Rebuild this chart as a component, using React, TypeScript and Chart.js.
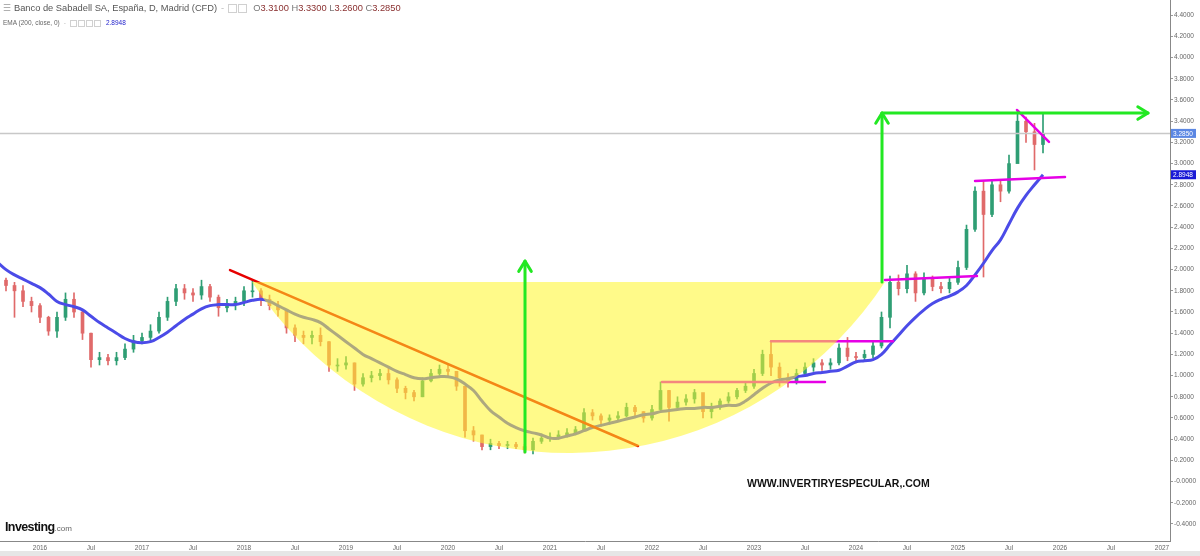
import React, { useEffect, useRef } from "react";
import { Chart, registerables } from "chart.js";

Chart.register(...registerables);

// ---- Data (monthly candles, Aug 2015 .. Nov 2025) ----
const START_YEAR = 2015;
const START_MONTH = 8; // August
const firstOpen = 1.95;
const closes = [
  1.9, 1.85, 1.8, 1.7, 1.66,
  1.55, 1.42, 1.55, 1.72, 1.6, 1.4, 1.15, 1.17, 1.14, 1.17, 1.25, 1.33,
  1.36, 1.42, 1.55, 1.7, 1.82, 1.78, 1.76, 1.84, 1.74, 1.64, 1.68, 1.7,
  1.8, 1.8, 1.72, 1.66, 1.62, 1.45, 1.38, 1.36, 1.38, 1.32, 1.1, 1.1,
  1.12, 0.92, 0.98, 1.0, 1.02, 0.96, 0.88, 0.84, 0.8, 0.95, 1.02, 1.06,
  1.04, 0.9, 0.48, 0.44, 0.33, 0.36, 0.34, 0.35, 0.33, 0.3, 0.38, 0.41,
  0.42, 0.44, 0.46, 0.49, 0.65, 0.62, 0.58, 0.6, 0.62, 0.7, 0.66, 0.6,
  0.68, 0.86, 0.7, 0.75, 0.78, 0.84, 0.66, 0.7, 0.76, 0.8, 0.86, 0.9,
  1.02, 1.2, 1.08, 0.98, 0.94, 1.02, 1.08, 1.12, 1.1, 1.12, 1.26, 1.18,
  1.17, 1.2, 1.28, 1.55, 1.88, 1.82, 1.96, 1.78, 1.92, 1.84, 1.82, 1.88,
  2.02, 2.38, 2.74, 2.52, 2.8, 2.74, 3.0, 3.4, 3.3, 3.18, 3.285,
];
const highs = [
  1.98, 1.92, 1.88, 1.85, 1.74,
  1.68, 1.56, 1.6, 1.78, 1.78, 1.62, 1.4, 1.22, 1.2, 1.22, 1.3, 1.38,
  1.4, 1.48, 1.6, 1.74, 1.86, 1.86, 1.82, 1.9, 1.86, 1.76, 1.72, 1.74,
  1.84, 1.9, 1.82, 1.76, 1.7, 1.62, 1.48, 1.42, 1.42, 1.45, 1.32, 1.16,
  1.18, 1.12, 1.02, 1.04, 1.06, 1.07, 0.98, 0.9, 0.86, 0.98, 1.06, 1.1,
  1.1, 1.04, 0.88, 0.52, 0.44, 0.4, 0.38, 0.38, 0.37, 0.35, 0.41, 0.45,
  0.46, 0.48, 0.5, 0.52, 0.69, 0.68, 0.64, 0.63, 0.66, 0.74, 0.72, 0.66,
  0.72, 0.94, 0.86, 0.8, 0.82, 0.87, 0.8, 0.74, 0.78, 0.84, 0.88, 0.94,
  1.06, 1.24, 1.33, 1.12, 1.02, 1.06, 1.12, 1.16, 1.15, 1.16, 1.3, 1.36,
  1.22, 1.24, 1.32, 1.6, 1.94, 1.95, 2.04, 1.98, 1.97, 1.94, 1.88, 1.92,
  2.08, 2.42, 2.78, 2.84, 2.84, 2.85, 3.08, 3.5, 3.44, 3.38, 3.48,
];
const lows = [
  1.85, 1.8, 1.55, 1.65, 1.6,
  1.5, 1.38, 1.36, 1.52, 1.55, 1.34, 1.08, 1.1, 1.1, 1.1, 1.15, 1.22,
  1.3, 1.32, 1.4, 1.52, 1.66, 1.72, 1.7, 1.72, 1.7, 1.56, 1.6, 1.62,
  1.66, 1.74, 1.66, 1.62, 1.56, 1.4, 1.32, 1.3, 1.3, 1.28, 1.04, 1.04,
  1.06, 0.86, 0.9, 0.94, 0.96, 0.92, 0.84, 0.78, 0.76, 0.8, 0.94, 1.0,
  1.0, 0.86, 0.42, 0.38, 0.3, 0.3, 0.31, 0.31, 0.31, 0.27, 0.26, 0.36,
  0.38, 0.4, 0.42, 0.44, 0.48, 0.58, 0.52, 0.54, 0.58, 0.61, 0.62, 0.56,
  0.58, 0.66, 0.57, 0.68, 0.72, 0.74, 0.6, 0.6, 0.68, 0.74, 0.78, 0.84,
  0.88, 1.0, 1.0, 0.9, 0.89, 0.92, 1.0, 1.04, 1.05, 1.06, 1.1, 1.14,
  1.12, 1.14, 1.17, 1.26, 1.45, 1.76, 1.78, 1.7, 1.76, 1.8, 1.78, 1.78,
  1.86, 2.0, 2.36, 1.93, 2.5, 2.64, 2.72, 3.02, 3.2, 2.94, 3.1,
];
const ema200 = [
  2.07, 2.0, 1.95, 1.91, 1.87,
  1.83, 1.77, 1.7, 1.67, 1.65, 1.62, 1.56, 1.5, 1.45, 1.4, 1.35, 1.32,
  1.31, 1.32, 1.36, 1.41, 1.47, 1.53, 1.58, 1.63, 1.66, 1.67, 1.67, 1.67,
  1.69, 1.71, 1.72, 1.7, 1.66, 1.62, 1.58, 1.55, 1.53, 1.5, 1.44, 1.38,
  1.32, 1.26, 1.2, 1.16, 1.12, 1.08, 1.04, 1.01, 0.98, 0.97, 0.98, 0.99,
  0.99, 0.97, 0.92, 0.86, 0.76, 0.67, 0.61, 0.55, 0.51, 0.48, 0.46, 0.44,
  0.41, 0.41, 0.43, 0.45, 0.48, 0.51, 0.53, 0.55, 0.57, 0.59, 0.61, 0.63,
  0.64, 0.66, 0.67, 0.68, 0.69, 0.69, 0.7, 0.7, 0.71, 0.72, 0.72, 0.76,
  0.82, 0.88, 0.93, 0.96, 0.97, 0.99, 1.0, 1.02, 1.03, 1.04, 1.05, 1.09,
  1.13, 1.14, 1.15, 1.2, 1.29, 1.38, 1.47, 1.55, 1.62, 1.68, 1.72, 1.75,
  1.79, 1.85, 1.95, 2.06, 2.18, 2.28, 2.43, 2.58, 2.7, 2.8, 2.8948,
];

const lastPrice = 3.285;
const lastEma = 2.8948;

const xTickValues = [
  2016, 2016.5, 2017, 2017.5, 2018, 2018.5, 2019, 2019.5, 2020, 2020.5, 2021, 2021.5,
  2022, 2022.5, 2023, 2023.5, 2024, 2024.5, 2025, 2025.5, 2026, 2026.5, 2027,
];
const xTickLabels = [
  "2016", "Jul", "2017", "Jul", "2018", "Jul", "2019", "Jul", "2020", "Jul", "2021", "Jul",
  "2022", "Jul", "2023", "Jul", "2024", "Jul", "2025", "Jul", "2026", "Jul", "2027",
];
const yTickValues = [
  -0.4, -0.2, 0, 0.2, 0.4, 0.6, 0.8, 1.0, 1.2, 1.4, 1.6, 1.8, 2.0, 2.2, 2.4, 2.6, 2.8,
  3.0, 3.2, 3.4, 3.6, 3.8, 4.0, 4.2, 4.4,
];
const yTickLabels = [
  "-0.4000", "-0.2000", "-0.0000", "0.2000", "0.4000", "0.6000", "0.8000", "1.0000",
  "1.2000", "1.4000", "1.6000", "1.8000", "2.0000", "2.2000", "2.4000", "2.6000",
  "2.8000", "3.0000", "3.2000", "3.4000", "3.6000", "3.8000", "4.0000", "4.2000", "4.4000",
];

// ---- Drawn annotations, in (decimal year, price) ----
const redTrend = [[2017.863, 1.996], [2021.863, 0.336]];
const magentaLines = [
  [[2022.098, 0.94], [2023.696, 0.94]],
  [[2023.167, 1.325], [2024.363, 1.325]],
  [[2024.284, 1.902], [2025.186, 1.94]],
  [[2025.167, 2.836], [2026.049, 2.874]],
  [[2025.578, 3.506], [2025.892, 3.205]],
];
const cupLeft = [2018.078, 1.883];
const cupRight = [2024.284, 1.883];
const cupBottomPrice = 0.27;
const arrowUp1 = [[2020.755, 0.279], [2020.755, 2.08]];
const arrowUp2 = [[2024.255, 1.883], [2024.255, 3.477]];
const arrowRight2 = [[2024.255, 3.477], [2026.863, 3.477]];

const X_MIN = 2015.6078;
const X_MAX = 2027.0784;
const Y_MIN = -0.5604;
const Y_MAX = 4.5434;

const FONT = "'Liberation Sans', Arial, sans-serif";
const UP = "#2f9e74";
const DOWN = "#e06a6a";

function monthX(i: number) {
  return START_YEAR + (START_MONTH - 1 + i) / 12;
}

const overlayPlugin = {
  id: "overlay",
  afterDatasetsDraw(chart: any) {
    const { ctx, chartArea, scales } = chart;
    const xs = scales.x;
    const ys = scales.y;
    const px = (v: number) => xs.getPixelForValue(v);
    const py = (v: number) => ys.getPixelForValue(v);
    ctx.save();
    ctx.beginPath();
    ctx.rect(chartArea.left, chartArea.top, chartArea.right - chartArea.left, chartArea.bottom - chartArea.top);
    ctx.clip();

    // current price line
    ctx.strokeStyle = "#c8c8c8";
    ctx.lineWidth = 1.5;
    ctx.beginPath();
    ctx.moveTo(chartArea.left, py(lastPrice));
    ctx.lineTo(chartArea.right, py(lastPrice));
    ctx.stroke();

    const seg = (a: number[], b: number[]) => {
      ctx.beginPath();
      ctx.moveTo(px(a[0]), py(a[1]));
      ctx.lineTo(px(b[0]), py(b[1]));
      ctx.stroke();
    };

    ctx.lineCap = "round";
    ctx.strokeStyle = "#e60000";
    ctx.lineWidth = 2.5;
    seg(redTrend[0], redTrend[1]);

    ctx.strokeStyle = "#e600e6";
    ctx.lineWidth = 2.5;
    magentaLines.forEach((l) => seg(l[0], l[1]));

    // yellow cup
    const xl = px(cupLeft[0]);
    const yl = py(cupLeft[1]);
    const xr = px(cupRight[0]);
    const yr = py(cupRight[1]);
    const yb = py(cupBottomPrice);
    const h = (xr - xl) / 2;
    const s = yb - yl;
    const R = (h * h + s * s) / (2 * s);
    const cx = (xl + xr) / 2;
    const cy = yb - R;
    const aL = Math.atan2(yl - cy, xl - cx);
    const aR = Math.atan2(yr - cy, xr - cx);
    ctx.fillStyle = "rgba(255,245,40,0.55)";
    ctx.beginPath();
    ctx.moveTo(xl, yl);
    ctx.lineTo(xr, yr);
    ctx.arc(cx, cy, R, aR, aL, false);
    ctx.closePath();
    ctx.fill();

    // green arrows
    ctx.strokeStyle = "#22e822";
    ctx.lineWidth = 3;
    ctx.lineCap = "round";
    ctx.lineJoin = "round";
    const arrow = (a: number[], b: number[], head: boolean) => {
      const x1 = px(a[0]), y1 = py(a[1]), x2 = px(b[0]), y2 = py(b[1]);
      ctx.beginPath();
      ctx.moveTo(x1, y1);
      ctx.lineTo(x2, y2);
      ctx.stroke();
      if (head) {
        const ang = Math.atan2(y2 - y1, x2 - x1);
        const L = 12;
        const W = 0.55;
        ctx.beginPath();
        ctx.moveTo(x2 - L * Math.cos(ang - W), y2 - L * Math.sin(ang - W));
        ctx.lineTo(x2, y2);
        ctx.lineTo(x2 - L * Math.cos(ang + W), y2 - L * Math.sin(ang + W));
        ctx.stroke();
      }
    };
    arrow(arrowUp1[0], arrowUp1[1], true);
    arrow(arrowUp2[0], arrowUp2[1], true);
    arrow(arrowRight2[0], arrowRight2[1], true);
    ctx.restore();

    // price labels on the axis
    const label = (v: number, text: string, bg: string) => {
      const y = py(v);
      ctx.save();
      ctx.fillStyle = bg;
      ctx.fillRect(chartArea.right + 1, y - 4.5, 25, 9);
      ctx.fillStyle = "#ffffff";
      ctx.font = `6.5px ${FONT}`;
      ctx.textBaseline = "middle";
      ctx.textAlign = "left";
      ctx.fillText(text, chartArea.right + 3, y + 0.5);
      ctx.restore();
    };
    label(lastPrice, lastPrice.toFixed(4), "#5b87e3");
    label(lastEma, lastEma.toFixed(4), "#1a1ad6");
  },
};

export default function App() {
  const ref = useRef<HTMLCanvasElement | null>(null);

  useEffect(() => {
    const canvas = ref.current;
    if (!canvas) return;
    const wick: any[] = [];
    const body: any[] = [];
    const colors: string[] = [];
    closes.forEach((c, i) => {
      const x = monthX(i);
      const o = i === 0 ? firstOpen : closes[i - 1];
      wick.push({ x, y: [lows[i], highs[i]] });
      body.push({ x, y: [o, c] });
      colors.push(c >= o ? UP : DOWN);
    });
    const ema = ema200.map((v, i) => ({ x: monthX(i), y: v }));

    const chart = new Chart(canvas, {
      type: "bar",
      data: {
        datasets: [
          {
            type: "line",
            data: ema,
            borderColor: "#4b4be8",
            borderWidth: 3,
            pointRadius: 0,
            tension: 0.4,
            order: 0,
          } as any,
          {
            data: wick,
            backgroundColor: colors,
            barThickness: 1,
            grouped: false,
            order: 2,
          } as any,
          {
            data: body,
            backgroundColor: colors,
            barThickness: 3,
            grouped: false,
            minBarLength: 1,
            order: 1,
          } as any,
        ],
      },
      options: {
        responsive: false,
        animation: false,
        devicePixelRatio: 1,
        layout: { padding: 0 },
        plugins: { legend: { display: false }, tooltip: { enabled: false }, title: { display: false } },
        scales: {
          x: {
            type: "linear",
            min: X_MIN,
            max: X_MAX,
            offset: false,
            afterBuildTicks: (s: any) => {
              s.ticks = xTickValues.map((v) => ({ value: v }));
            },
            afterFit: (s: any) => {
              s.height = 15;
              s.paddingLeft = 0;
              s.paddingRight = 0;
            },
            ticks: {
              autoSkip: false,
              maxRotation: 0,
              padding: 3,
              color: "#666",
              font: { family: FONT, size: 6.5 },
              callback: (_v: any, i: number) => xTickLabels[i],
            },
            grid: { display: true, drawOnChartArea: false, drawTicks: false, color: "#999" },
            border: { display: true, color: "#888", width: 1 },
          },
          y: {
            type: "linear",
            position: "right",
            min: Y_MIN,
            max: Y_MAX,
            afterBuildTicks: (s: any) => {
              s.ticks = yTickValues.map((v) => ({ value: v }));
            },
            afterFit: (s: any) => {
              s.width = 30;
              s.paddingTop = 0;
              s.paddingBottom = 0;
            },
            ticks: {
              autoSkip: false,
              padding: 1,
              color: "#666",
              font: { family: FONT, size: 6.5 },
              callback: (_v: any, i: number) => yTickLabels[i],
            },
            grid: { display: true, drawOnChartArea: false, drawTicks: true, tickLength: 3, color: "#999" },
            border: { display: true, color: "#888", width: 1 },
          },
        },
      } as any,
      plugins: [overlayPlugin],
    });
    return () => chart.destroy();
  }, []);

  const iconBox: React.CSSProperties = {
    display: "inline-block",
    width: 7,
    height: 7,
    border: "1px solid #d0d0d0",
    marginRight: 1,
    verticalAlign: "middle",
  };

  return (
    <div style={{ position: "fixed", left: 0, top: 0, width: 1200, height: 556, background: "#fff", overflow: "hidden" }}>
      <canvas ref={ref} width={1200} height={556} style={{ position: "absolute", left: 0, top: 0, width: 1200, height: 556 }} />
      <div style={{ position: "absolute", left: 0, top: 551, width: 1200, height: 5, background: "#e6e6e6" }} />
      <div style={{ position: "absolute", left: 3, top: 3, fontFamily: FONT, fontSize: 9.3, color: "#555", whiteSpace: "nowrap", lineHeight: "11px" }}>
        <span style={{ color: "#999", marginRight: 3 }}>☰</span>
        Banco de Sabadell SA, España, D, Madrid (CFD)
        <span style={{ color: "#bbb", margin: "0 4px" }}>-</span>
        <span style={iconBox} />
        <span style={{ ...iconBox, marginRight: 6 }} />
        <span style={{ color: "#777" }}>O</span>
        <span style={{ color: "#8a3030" }}>3.3100 </span>
        <span style={{ color: "#777" }}> H</span>
        <span style={{ color: "#8a3030" }}>3.3300 </span>
        <span style={{ color: "#777" }}> L</span>
        <span style={{ color: "#8a3030" }}>3.2600 </span>
        <span style={{ color: "#777" }}> C</span>
        <span style={{ color: "#8a3030" }}>3.2850</span>
      </div>
      <div style={{ position: "absolute", left: 3, top: 18, fontFamily: FONT, fontSize: 6.5, color: "#666", whiteSpace: "nowrap", lineHeight: "9px" }}>
        EMA (200, close, 0)
        <span style={{ color: "#bbb", margin: "0 4px" }}>-</span>
        <span style={{ ...iconBox, width: 5, height: 5 }} />
        <span style={{ ...iconBox, width: 5, height: 5 }} />
        <span style={{ ...iconBox, width: 5, height: 5 }} />
        <span style={{ ...iconBox, width: 5, height: 5, marginRight: 5 }} />
        <span style={{ color: "#2222cc" }}>2.8948</span>
      </div>
      <div style={{ position: "absolute", left: 747, top: 477, fontFamily: FONT, fontSize: 10.5, fontWeight: "bold", color: "#111", whiteSpace: "nowrap" }}>
        WWW.INVERTIRYESPECULAR,.COM
      </div>
      <div style={{ position: "absolute", left: 5, top: 519, fontFamily: FONT, whiteSpace: "nowrap", lineHeight: "14px" }}>
        <span style={{ fontSize: 12.5, fontWeight: "bold", color: "#111", letterSpacing: -0.6 }}>Investing</span>
        <span style={{ fontSize: 8, color: "#666" }}>.com</span>
      </div>
    </div>
  );
}
